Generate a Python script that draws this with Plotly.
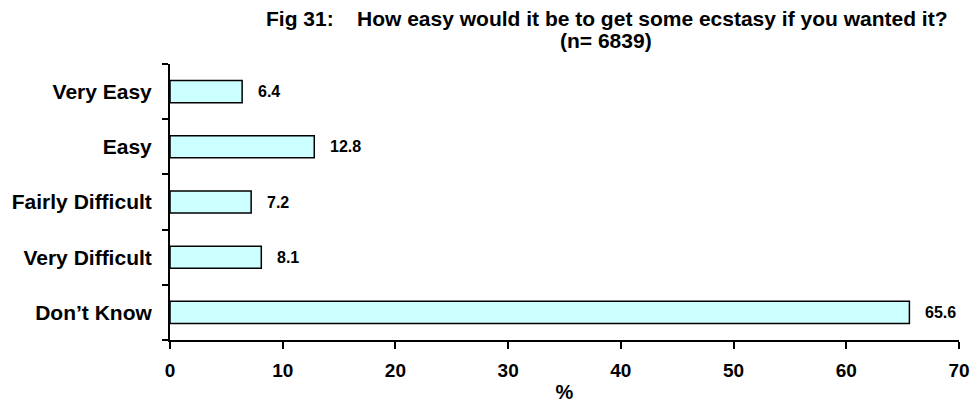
import plotly.graph_objects as go

categories = ["Very Easy", "Easy", "Fairly Difficult", "Very Difficult", "Don\u2019t Know"]
values = [6.4, 12.8, 7.2, 8.1, 65.6]
labels = ["6.4", "12.8", "7.2", "8.1", "65.6"]
x_ticks = [0, 10, 20, 30, 40, 50, 60, 70]

FONT = "Liberation Sans, Arial, sans-serif"

fig = go.Figure()
fig.add_trace(go.Bar(
    x=values, y=categories, orientation="h",
    marker=dict(color="#CCFFFF", line=dict(color="black", width=1.5)),
    width=0.4, hoverinfo="skip",
))

annotations = []
for c, v, t in zip(categories, values, labels):
    annotations.append(dict(
        x=v, y=c, xref="x", yref="y", text=t, showarrow=False,
        xanchor="left", yanchor="middle", xshift=14,
        font=dict(family=FONT, size=16, color="black", weight="bold"),
    ))
annotations.append(dict(
    x=0.5526, y=1.0, xref="paper", yref="paper",
    text="Fig 31:\u00a0\u00a0\u00a0\u00a0How easy would it be to get some ecstasy if you wanted it?",
    showarrow=False, xanchor="center", yanchor="middle", yshift=46,
    font=dict(family=FONT, size=21, color="black", weight="bold"),
))
annotations.append(dict(
    x=0.5526, y=1.0, xref="paper", yref="paper", text="(n= 6839)",
    showarrow=False, xanchor="center", yanchor="middle", yshift=24,
    font=dict(family=FONT, size=21, color="black", weight="bold"),
))

fig.update_layout(
    width=970, height=405,
    margin=dict(l=170, r=11, t=64, b=65),
    paper_bgcolor="white", plot_bgcolor="white",
    showlegend=False,
    annotations=annotations,
    font=dict(family=FONT, color="black"),
)
fig.update_xaxes(
    range=[0, 70], tickvals=x_ticks, ticktext=[str(v) for v in x_ticks],
    showline=True, linecolor="black", linewidth=2,
    ticks="outside", ticklen=7, tickwidth=2, tickcolor="black",
    ticklabelstandoff=5,
    showgrid=False, zeroline=False, automargin=False,
    tickfont=dict(family=FONT, size=19, color="black", weight="bold"),
    title=dict(text="%", font=dict(family=FONT, size=20, color="black", weight="bold"), standoff=5),
)
fig.update_yaxes(
    categoryorder="array", categoryarray=categories[::-1],
    showline=True, linecolor="black", linewidth=2,
    ticks="outside", ticklen=6, tickwidth=2, tickcolor="black",
    tickson="boundaries", ticklabelstandoff=12,
    showgrid=False, zeroline=False, automargin=False,
    tickfont=dict(family=FONT, size=21, color="black", weight="bold"),
)

fig.write_html(
    "out.html",
    config={"displayModeBar": False, "staticPlot": True},
    post_script="document.body.style.margin='0';document.body.style.overflow='hidden';",
)
